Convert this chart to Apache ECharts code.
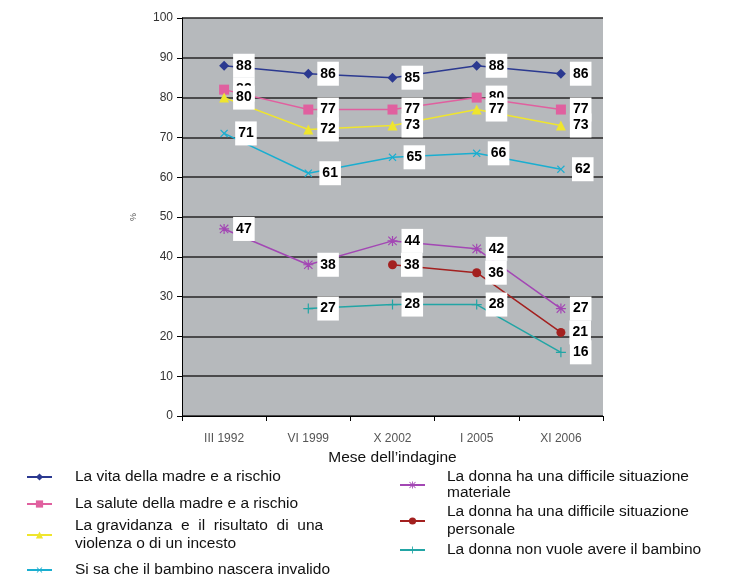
<!DOCTYPE html>
<html>
<head>
<meta charset="utf-8">
<script src="https://cdn.jsdelivr.net/npm/echarts@6/dist/echarts.min.js"></script>
<style>
  html, body { margin: 0; padding: 0; background: #fff; }
  #chart { width: 741px; height: 577px; }
</style>
</head>
<body>
<div id="chart"></div>
<script>
const months = ["III 1992", "VI 1999", "X 2002", "I 2005", "XI 2006"];

const vitaMadre = [88, 86, 85, 88, 86];
const saluteMadre = [82, 77, 77, 80, 77];
const violenza = [80, 72, 73, 77, 73];
const invalido = [71, 61, 65, 66, 62];
const materiale = [47, 38, 44, 42, 27];
const personale = [null, null, 38, 36, 21];
const nonVuole = [null, 27, 28, 28, 16];

const sans = "'Liberation Sans', Arial, sans-serif";

const plusPath = "path://M4.4,0 H5.6 V4.4 H10 V5.6 H5.6 V10 H4.4 V5.6 H0 V4.4 H4.4 Z";
const starPath = "path://M4.4,0 H5.6 V4.4 H10 V5.6 H5.6 V10 H4.4 V5.6 H0 V4.4 H4.4 Z M1.2,0.4 L5,4.2 L8.8,0.4 L9.6,1.2 L5.8,5 L9.6,8.8 L8.8,9.6 L5,5.8 L1.2,9.6 L0.4,8.8 L4.2,5 L0.4,1.2 Z";

const chart = echarts.init(document.getElementById("chart"));

function numLabel() {
	return {
		show: true,
		position: "right",
		distance: 4,
		formatter: "{c}",
		color: "#000",
		fontFamily: sans,
		fontWeight: "bold",
		fontSize: 14,
		backgroundColor: "#fff",
		padding: [5, 3, 5, 3]
	};
}

function withOffset(values, offsets) {
	return values.map((v, i) => {
		if (offsets && offsets[i]) {
			return { value: v, label: { offset: offsets[i] } };
		}
		return v;
	});
}

function makeSeries(name, values, color, symbol, size, extra) {
	return Object.assign({
		name: name,
		type: "line",
		data: values,
		symbol: symbol,
		symbolSize: size,
		showAllSymbol: true,
		lineStyle: { color: color, width: 1.5 },
		itemStyle: { color: color },
		label: numLabel(),
		labelLayout: { hideOverlap: false },
		emphasis: { disabled: true },
		animation: false
	}, extra || {});
}

const names = [
	"La vita della madre e a rischio",
	"La salute della madre e a rischio",
	"La gravidanza e il risultato di una violenza o di un incesto",
	"Si sa che il bambino nascera invalido",
	"La donna ha una difficile situazione materiale",
	"La donna ha una difficile situazione personale",
	"La donna non vuole avere il bambino"
];

const legendText = {
	[names[2]]: "La gravidanza  e  il  risultato  di  una\nviolenza o di un incesto",
	[names[4]]: "La donna ha una difficile situazione\nmateriale",
	[names[5]]: "La donna ha una difficile situazione\npersonale"
};

function legendItem(name, left, top, pad, lh) {
	return {
		data: [name],
		left: left,
		top: top,
		orient: "vertical",
		padding: 0,
		itemWidth: 25,
		itemHeight: 9,
		selectedMode: false,
		formatter: n => legendText[n] || n,
		textStyle: {
			fontFamily: sans,
			fontSize: 15.5,
			lineHeight: lh,
			color: "#111",
			padding: [0, 0, 0, pad]
		}
	};
}

const option = {
	backgroundColor: "#fff",
	animation: false,
	grid: {
		left: 182,
		right: 138,
		top: 18,
		bottom: 161,
		show: true,
		backgroundColor: "#b6b9bc",
		borderWidth: 0
	},
	xAxis: {
		type: "category",
		data: months,
		boundaryGap: true,
		name: "Mese dell’indagine",
		nameLocation: "middle",
		nameGap: 33,
		nameTextStyle: { fontFamily: sans, fontSize: 15.5, color: "#111" },
		axisLine: { lineStyle: { color: "#000", width: 1 } },
		axisTick: { show: true, length: 5, lineStyle: { color: "#000" } },
		axisLabel: {
			margin: 17,
			fontFamily: sans,
			fontSize: 12,
			color: "#555"
		}
	},
	yAxis: {
		type: "value",
		min: 0,
		max: 100,
		interval: 10,
		name: "%",
		nameLocation: "middle",
		nameGap: 44,
		nameRotate: 90,
		nameTextStyle: { fontSize: 9, color: "#555" },
		axisLine: { show: true, lineStyle: { color: "#000", width: 1 } },
		axisTick: { show: true, length: 5, lineStyle: { color: "#000" } },
		axisLabel: {
			margin: 9,
			fontFamily: sans,
			fontSize: 12,
			color: "#333"
		},
		splitLine: { show: true, lineStyle: { color: "#262626", width: 1.6 } }
	},
	legend: [
		legendItem(names[0], 26, 468, 18, 18),
		legendItem(names[1], 26, 495, 18, 18),
		legendItem(names[2], 26, 517, 18, 18),
		legendItem(names[3], 26, 561, 18, 18),
		legendItem(names[4], 399, 469, 17, 16),
		legendItem(names[5], 399, 503, 17, 18),
		legendItem(names[6], 399, 541, 17, 18)
	],
	series: [
		makeSeries(names[0], vitaMadre, "#2b3990", "diamond", 10),
		makeSeries(names[1], withOffset(saluteMadre, { 4: [0, -9] }), "#e0609f", "rect", 10),
		makeSeries(names[2], withOffset(violenza, { 3: [0, 10] }), "#efe52d", "triangle", 10),
		makeSeries(names[3], invalido, "#1aaed0", plusPath, 10, { symbolRotate: 45 }),
		makeSeries(names[4], materiale, "#a347b4", starPath, 10),
		makeSeries(names[5], personale, "#a3201f", "circle", 9),
		makeSeries(names[6], nonVuole, "#22a5a5", plusPath, 10)
	]
};

chart.setOption(option);
</script>
</body>
</html>
